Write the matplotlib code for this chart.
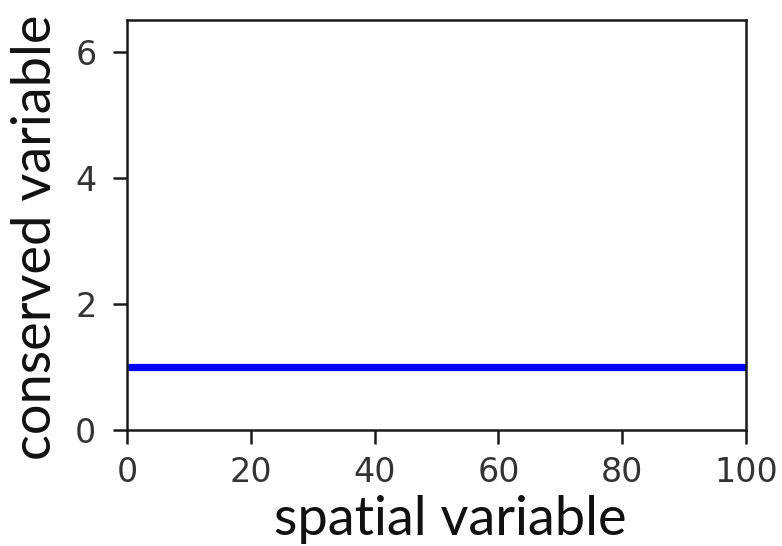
import matplotlib
matplotlib.use("Agg")
import matplotlib.pyplot as plt

# Spatial grid end points and the (constant) conserved variable
x_values = [0, 100]
u_values = [1.0, 1.0]

x_ticks = [0, 20, 40, 60, 80, 100]
y_ticks = [0, 2, 4, 6]

fig = plt.figure(figsize=(7.82, 5.46), dpi=100)
ax = fig.add_axes([127 / 782, 1 - 430 / 546, (746 - 127) / 782, (430 - 20) / 546])

ax.plot(x_values, u_values, color="#0000ff", linewidth=5.2, solid_capstyle="butt")

ax.set_xlim(0, 100)
ax.set_ylim(0, 6.5)
ax.set_xticks(x_ticks)
ax.set_yticks(y_ticks)

for sp in ax.spines.values():
    sp.set_linewidth(1.8)
    sp.set_color("#1a1a1a")

ax.tick_params(axis="both", length=10, width=1.8, color="#1a1a1a",
               labelsize=24, labelcolor="#333333")
ax.tick_params(axis="x", pad=9)
ax.tick_params(axis="y", pad=12)
for lab in ax.get_xticklabels() + ax.get_yticklabels():
    lab.set_family("DejaVu Sans")

label_font = dict(family=["Lato", "DejaVu Sans"], fontsize=39, color="#111111")
ax.set_xlabel("spatial variable", **label_font)
ax.set_ylabel("conserved variable", **label_font)
ax.xaxis.set_label_coords((450 - 127) / (746 - 127), -(495 - 430) / 410)
ax.yaxis.set_label_coords(-(127 - 60) / 619, (430 - 237) / 410)

fig.savefig("out.png", dpi=100, facecolor="white")
